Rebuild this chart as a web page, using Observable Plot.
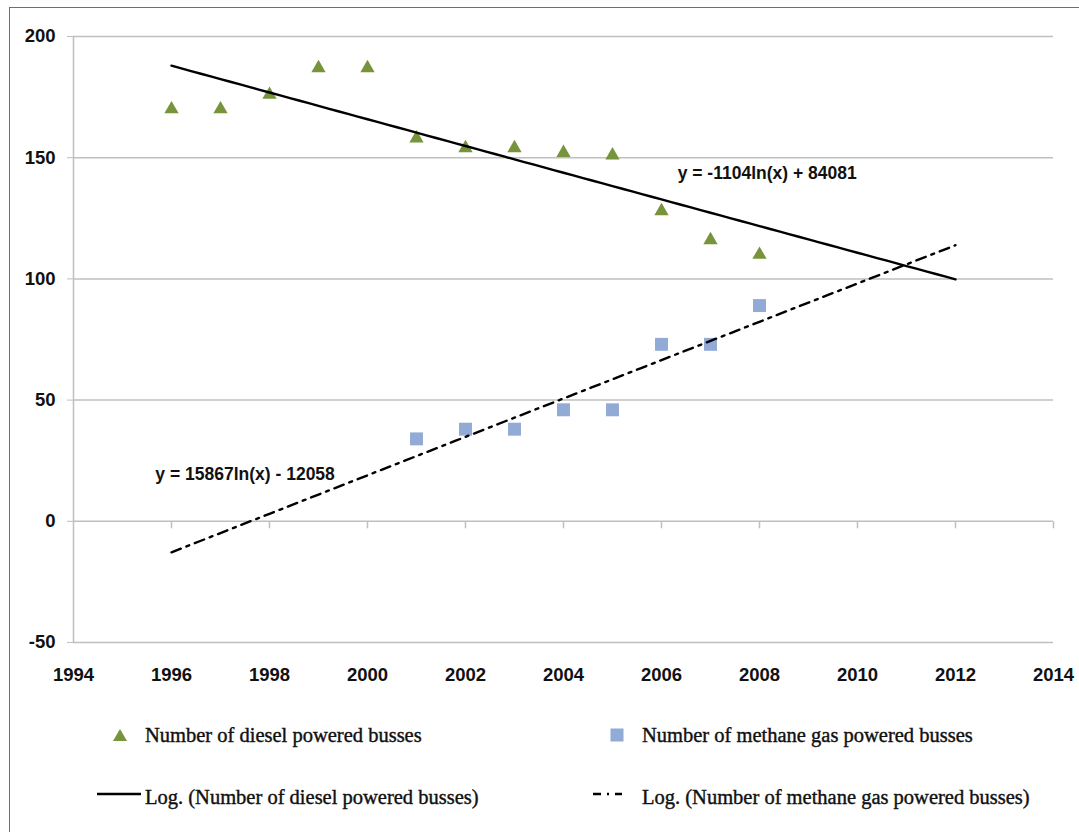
<!DOCTYPE html>
<html>
<head>
<meta charset="utf-8">
<script src="https://cdn.jsdelivr.net/npm/d3@7"></script>
<script src="https://cdn.jsdelivr.net/npm/@observablehq/plot@0.6"></script>
<style>
  html, body { margin: 0; padding: 0; background: #fff; }
  #wrap { position: relative; width: 1079px; height: 832px; overflow: hidden; background: #fff; }
  #frame { position: absolute; left: 9px; top: 7px; width: 1200px; height: 1000px;
           border-top: 1.5px solid #6a64a8; border-left: 1.5px solid #6a64a8; box-sizing: border-box; }
  #chart { position: absolute; left: 0; top: 0; }
  .leg { position: absolute; font-family: "Liberation Serif", "Times New Roman", serif; font-size: 20.5px;
         color: #111; white-space: nowrap; line-height: 1; -webkit-text-stroke: 0.4px #111; }
  .sw { position: absolute; }
</style>
</head>
<body>
<div id="wrap">
  <div id="frame"></div>
  <div id="chart"></div>
  <svg class="sw" style="left:111px;top:727px" width="18" height="16"><path d="M9,2 L16,14 L2,14 Z" fill="#77933c"/></svg>
  <div class="leg" style="left:145px;top:725px">Number of diesel powered busses</div>
  <svg class="sw" style="left:95px;top:790px" width="48" height="8"><line x1="2" y1="4" x2="46" y2="4" stroke="#000" stroke-width="2.3"/></svg>
  <div class="leg" style="left:145px;top:787px">Log. (Number of diesel powered busses)</div>
  <svg class="sw" style="left:609px;top:727px" width="16" height="16"><rect x="1.5" y="1.5" width="13" height="13" fill="#91aad6"/></svg>
  <div class="leg" style="left:642px;top:725px">Number of methane gas powered busses</div>
  <svg class="sw" style="left:590px;top:790px" width="36" height="8"><line x1="3" y1="4" x2="32" y2="4" stroke="#000" stroke-width="2.3" stroke-dasharray="8,6,2,6,8,40"/></svg>
  <div class="leg" style="left:642px;top:787px">Log. (Number of methane gas powered busses)</div>
</div>
<script>
// ---- data ----
const dieselYears = [1996, 1997, 1998, 1999, 2000, 2001, 2002, 2003, 2004, 2005, 2006, 2007, 2008];
const dieselBusses = [170, 170, 176, 187, 187, 158, 154, 154, 152, 151, 128, 116, 110];
const methaneYears = [2001, 2002, 2003, 2004, 2005, 2006, 2007, 2008];
const methaneBusses = [34, 38, 38, 46, 46, 73, 73, 89];
const xTicks = [1994, 1996, 1998, 2000, 2002, 2004, 2006, 2008, 2010, 2012, 2014];
const yTicks = [-50, 0, 50, 100, 150, 200];
const dieselTrendRange = [1996, 2012];
const methaneTrendRange = [1996, 2012];
const dieselEquation = "y = -1104ln(x) + 84081";
const methaneEquation = "y = 15867ln(x) - 12058";

// logarithmic least-squares fit y = a ln(x) + b (as a spreadsheet "Log." trendline)
function logFit(xs, ys) {
  const lx = xs.map(Math.log);
  const mx = d3.mean(lx), my = d3.mean(ys);
  let sxy = 0, sxx = 0;
  lx.forEach((v, i) => { sxy += (v - mx) * (ys[i] - my); sxx += (v - mx) * (v - mx); });
  const a = sxy / sxx, b = my - a * mx;
  return x => a * Math.log(x) + b;
}
function trend(xs, ys, range) {
  const f = logFit(xs, ys);
  const n = 80, pts = [];
  for (let i = 0; i <= n; i++) {
    const x = range[0] + (range[1] - range[0]) * i / n;
    pts.push({x, y: f(x)});
  }
  return pts;
}
const diesel = dieselYears.map((x, i) => ({x, y: dieselBusses[i]}));
const methane = methaneYears.map((x, i) => ({x, y: methaneBusses[i]}));
const dieselTrend = trend(dieselYears, dieselBusses, dieselTrendRange);
const methaneTrend = trend(methaneYears, methaneBusses, methaneTrendRange);

const grid = "#bfbfbf";
const tickMark = { draw(ctx) { ctx.moveTo(0, 0); ctx.lineTo(0, 7); } };

const chart = Plot.plot({
  width: 1079,
  height: 700,
  marginLeft: 73,
  marginRight: 26,
  marginTop: 36,
  marginBottom: 58,
  style: { fontFamily: "'Liberation Sans', Arial, sans-serif", background: "transparent" },
  x: { domain: [1994, 2014] },
  y: { domain: [-50, 200] },
  marks: [
    Plot.gridY(yTicks, { stroke: grid, strokeOpacity: 1, strokeWidth: 1.5 }),
    Plot.ruleX([1994], { stroke: grid, strokeWidth: 1.5 }),
    Plot.dot(xTicks.slice(1), { x: d => d, y: () => 0, symbol: tickMark, stroke: grid, strokeWidth: 1.5, fill: "none" }),
    Plot.axisY(yTicks, { tickSize: 6, tickPadding: 12, stroke: grid, fill: "#111", fontSize: 18.5, fontWeight: "bold", label: null, tickFormat: d => String(d) }),
    Plot.axisX(xTicks, { tickSize: 0, tickPadding: 25, fill: "#111", fontSize: 18.5, fontWeight: "bold", label: null, tickFormat: d => String(d) }),
    Plot.dot(diesel, { x: "x", y: "y", symbol: "triangle", r: 5.3, fill: "#77933c" }),
    Plot.dot(methane, { x: "x", y: "y", symbol: "square", r: 7.3, fill: "#91aad6" }),
    Plot.line(dieselTrend, { x: "x", y: "y", stroke: "#000", strokeWidth: 2.4 }),
    Plot.line(methaneTrend, { x: "x", y: "y", stroke: "#000", strokeWidth: 2.4, strokeDasharray: "10,6,3,6" }),
    Plot.text([dieselEquation], { x: () => 2006.33, y: () => 143.7, text: d => d, textAnchor: "start", fontSize: 17.5, fontWeight: "bold", fill: "#111" }),
    Plot.text([methaneEquation], { x: () => 1995.67, y: () => 19.5, text: d => d, textAnchor: "start", fontSize: 17.5, fontWeight: "bold", fill: "#111" })
  ]
});
document.getElementById("chart").appendChild(chart);
</script>
</body>
</html>
